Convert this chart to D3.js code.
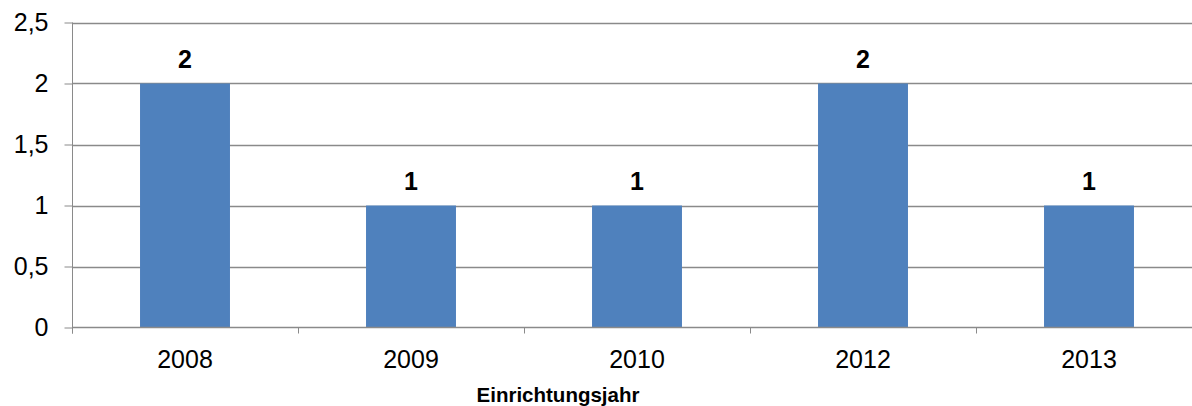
<!DOCTYPE html>
<html>
<head>
<meta charset="utf-8">
<script src="https://cdn.jsdelivr.net/npm/d3@7"></script>
<style>
  body { margin: 0; background: #fff; }
  svg { display: block; font-family: "Liberation Sans", Arial, sans-serif; }
</style>
</head>
<body>
<svg id="chart" width="1192" height="406"></svg>
<script>
// chart data
const years = ["2008", "2009", "2010", "2012", "2013"];
const counts = [2, 1, 1, 2, 1];
const yTicks = [0, 0.5, 1, 1.5, 2, 2.5];
const xTitle = "Einrichtungsjahr";

const svg = d3.select("#chart");
const plotLeft = 72, plotRight = 1202, plotTop = 22.5, plotBottom = 327.5;
const axisColor = "#8a8a8a";
const labelSize = 25;

const x = d3.scaleBand()
  .domain(years)
  .range([plotLeft, plotRight])
  .paddingInner(0.602)
  .paddingOuter(0.301);

const y = d3.scaleLinear()
  .domain([0, 2.5])
  .range([plotBottom, plotTop]);

const fmt = d => String(d).replace(".", ",");

// horizontal gridlines
svg.append("g")
  .selectAll("line")
  .data(yTicks.filter(d => d > 0))
  .join("line")
    .attr("x1", plotLeft)
    .attr("x2", plotRight)
    .attr("y1", d => Math.round(y(d)) + 0.5)
    .attr("y2", d => Math.round(y(d)) + 0.5)
    .attr("stroke", axisColor)
    .attr("stroke-width", 1.3);

// bars
svg.append("g")
  .selectAll("rect")
  .data(years)
  .join("rect")
    .attr("x", d => x(d))
    .attr("y", (d, i) => y(counts[i]))
    .attr("width", x.bandwidth())
    .attr("height", (d, i) => y(0) - y(counts[i]))
    .attr("fill", "#4f81bd");

// value labels
svg.append("g")
  .selectAll("text")
  .data(years)
  .join("text")
    .attr("x", d => x(d) + x.bandwidth() / 2)
    .attr("y", (d, i) => y(counts[i]) - 16)
    .attr("text-anchor", "middle")
    .attr("font-size", labelSize)
    .attr("font-weight", "bold")
    .attr("fill", "#000")
    .text((d, i) => counts[i]);

// y axis
const yAxis = svg.append("g")
  .attr("transform", `translate(${plotLeft + 0.5},0)`)
  .call(d3.axisLeft(y).tickValues(yTicks).tickFormat(fmt).tickSize(8).tickPadding(16));
yAxis.select(".domain").attr("stroke", axisColor).attr("d", `M0,${plotTop}V${plotBottom + 6}`);
yAxis.selectAll(".tick line").attr("stroke", axisColor);
yAxis.selectAll(".tick text")
  .attr("font-size", labelSize)
  .attr("font-family", "Liberation Sans, Arial, sans-serif")
  .attr("fill", "#000");

// x axis: ticks on category boundaries
const step = x.step();
const boundaries = d3.range(years.length + 1).map(i => plotLeft + i * step);
svg.append("line")
  .attr("x1", plotLeft).attr("x2", plotRight)
  .attr("y1", plotBottom).attr("y2", plotBottom)
  .attr("stroke", axisColor).attr("stroke-width", 1.3);
svg.append("g")
  .selectAll("line")
  .data(boundaries)
  .join("line")
    .attr("x1", d => Math.round(d) + 0.5)
    .attr("x2", d => Math.round(d) + 0.5)
    .attr("y1", plotBottom)
    .attr("y2", plotBottom + 6)
    .attr("stroke", axisColor);

svg.append("g")
  .selectAll("text")
  .data(years)
  .join("text")
    .attr("x", d => x(d) + x.bandwidth() / 2)
    .attr("y", 368)
    .attr("text-anchor", "middle")
    .attr("font-size", labelSize)
    .attr("fill", "#000")
    .text(d => d);

// axis title
svg.append("text")
  .attr("x", 558)
  .attr("y", 402)
  .attr("text-anchor", "middle")
  .attr("font-size", 20.5)
  .attr("font-weight", "bold")
  .attr("fill", "#000")
  .text(xTitle);
</script>
</body>
</html>
